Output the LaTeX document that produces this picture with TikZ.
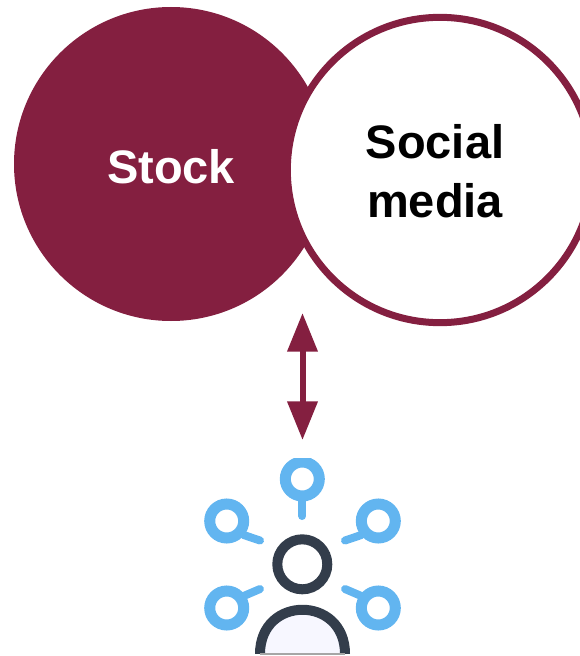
\documentclass[tikz,border=0pt]{standalone}
\usepackage{fontspec}
\setmainfont{Liberation Sans}
\usetikzlibrary{arrows.meta}
\definecolor{wine}{HTML}{841F40}
\definecolor{lensblue}{HTML}{62B5F0}
\definecolor{persondark}{HTML}{333D4B}
\tikzset{
  x=0.75pt,y=-0.75pt,
  bubble/.style={circle,inner sep=0pt,minimum size=235.5pt},
  label/.style={font=\bfseries\fontsize{35.25pt}{42pt}\selectfont,anchor=base,inner sep=0pt},
  biarrow/.style={wine,line width=4.5pt,{Triangle[length=29pt,width=22pt]}-{Triangle[length=29pt,width=22pt]},shorten <=0pt,shorten >=0pt},
  lens/.style={circle,draw=lensblue,line width=8.25pt,fill=white,inner sep=0pt,minimum size=25.5pt},
  handle/.style={draw=lensblue,line width=6pt,line cap=round},
  dark/.style={draw=persondark,line width=7.5pt}
}
\begin{document}
\begin{tikzpicture}
\useasboundingbox (0,0) rectangle (580,656);
\clip (0,0) rectangle (580,656);
\node[bubble,fill=wine] (stock) at (171,164) {};
\node[bubble,minimum size=229pt,fill=white,draw=wine,line width=5.25pt] (social) at (440,170) {};
\node[label,text=white] (stocktext) at (171,183) {Stock};
\node[label] (socialtext) at (435,159) {Social};
\node[label] (mediatext) at (435,217) {media};
\coordinate (atop) at (302.5,313);
\coordinate (abot) at (302.5,440);
\draw[biarrow] (atop) -- (abot);
% icon
\begin{scope}
\clip (190,458) rectangle (420,656);
\node[lens] (l1) at (302.3,479) {};
\node[lens] (l2) at (226.7,521) {};
\node[lens] (l3) at (378.3,521) {};
\node[lens] (l4) at (226.7,608) {};
\node[lens] (l5) at (378.3,608) {};
\coordinate (h1) at (302.3,516);
\coordinate (h2) at (260,540.5);
\coordinate (h3) at (345,540.5);
\coordinate (h4) at (260,589);
\coordinate (h5) at (345,589);
\draw[handle] (l1) ++(0,22) -- (h1);
\draw[handle] (l2) ++(17,14) -- (h2);
\draw[handle] (l3) ++(-17,14) -- (h3);
\draw[handle] (l4) ++(17,-12) -- (h4);
\draw[handle] (l5) ++(-17,-12) -- (h5);
\node[circle,dark,fill=white,inner sep=0pt,minimum size=37.5pt] (head) at (302.3,564.3) {};
\coordinate (bl) at (260,654);
\coordinate (br) at (345,654);
\draw[dark,fill=white!97!blue] (bl) .. controls (260,595) and (345,595) .. (br);
\draw[gray!70,line width=0.8pt] (bl) -- (br);
\end{scope}
\end{tikzpicture}
\end{document}
